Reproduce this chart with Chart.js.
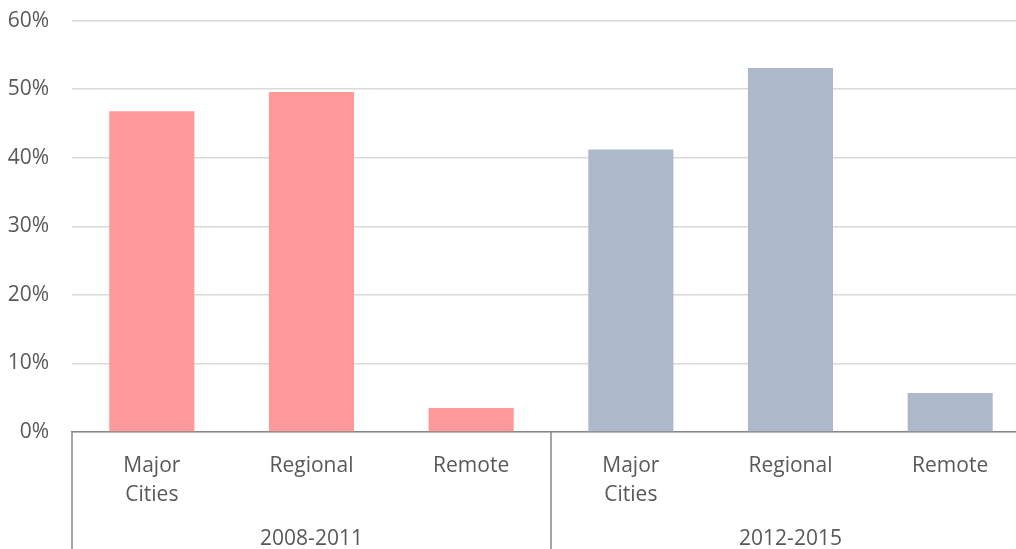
<!DOCTYPE html>
<html>
<head>
<meta charset="utf-8">
<script src="https://cdn.jsdelivr.net/npm/chart.js@4"></script>
<style>
  html, body { margin: 0; padding: 0; background: #fff; overflow: hidden; }
  #wrap { width: 1016px; height: 549px; overflow: hidden; }
  canvas { display: block; }
</style>
</head>
<body>
<div id="wrap"><canvas id="c" width="1032" height="549"></canvas></div>
<script>
// Area categories under each period
const categories = [['Major', 'Cities'], 'Regional', 'Remote', ['Major', 'Cities'], 'Regional', 'Remote'];
// Period groups (three categories each)
const periods = ['2008-2011', '2012-2015'];
// Share for each category, in order
const shares = [0.468, 0.496, 0.035, 0.412, 0.531, 0.057];
// Y axis tick values
const yTicks = [0, 0.1, 0.2, 0.3, 0.4, 0.5, 0.6];

const periodColors = ['#FF9999', '#ADB9CA'];
const textColor = '#595959';
const lineColor = '#878787';
const fontSize = 21;

Chart.defaults.font.family = "'Open Sans', sans-serif";
Chart.defaults.color = textColor;

const barColors = shares.map((_, i) => periodColors[Math.floor(i / 3)]);

// Draws the period labels and the vertical dividers below the axis
const periodGroups = {
  id: 'periodGroups',
  afterDraw(chart) {
    const x = chart.scales.x;
    const ctx = chart.ctx;
    const step = x.getPixelForValue(1) - x.getPixelForValue(0);
    const top = chart.chartArea.bottom;
    const bottom = chart.height;
    ctx.save();
    ctx.strokeStyle = lineColor;
    ctx.lineWidth = 1.5;
    const edges = [];
    periods.forEach((p, g) => {
      const left = x.getPixelForValue(g * 3) - step / 2;
      const right = x.getPixelForValue(g * 3 + 2) + step / 2;
      edges.push(left, right);
      ctx.fillStyle = textColor;
      ctx.font = fontSize + "px 'Open Sans', sans-serif";
      ctx.textAlign = 'center';
      ctx.textBaseline = 'middle';
      ctx.fillText(p, (left + right) / 2, 539);
    });
    [...new Set(edges.map(e => Math.round(e * 10) / 10))].forEach(e => {
      ctx.beginPath();
      ctx.moveTo(e, top);
      ctx.lineTo(e, bottom);
      ctx.stroke();
    });
    ctx.restore();
  }
};

new Chart(document.getElementById('c'), {
  type: 'bar',
  data: {
    labels: categories,
    datasets: [{
      data: shares,
      backgroundColor: barColors,
      borderWidth: 0,
      barPercentage: 1,
      categoryPercentage: 0.533
    }]
  },
  options: {
    responsive: false,
    animation: false,
    layout: { padding: { top: 20.7, right: 2, left: 0, bottom: 0 } },
    plugins: { legend: { display: false }, tooltip: { enabled: false } },
    scales: {
      x: {
        grid: { display: false, drawTicks: false },
        border: { display: true, color: lineColor, width: 1.5 },
        ticks: {
          font: { size: fontSize, lineHeight: 1.38 },
          color: textColor,
          padding: 20,
          maxRotation: 0,
          autoSkip: false
        },
        afterFit(scale) {
          scale.height = 117;
          scale.paddingLeft = 0;
          scale.paddingRight = 0;
        }
      },
      y: {
        min: 0,
        max: 0.6,
        afterBuildTicks(scale) { scale.ticks = yTicks.map(v => ({ value: v })); },
        grid: { color: '#d9d9d9', lineWidth: 1.5, drawTicks: false },
        border: { display: false },
        ticks: {
          font: { size: fontSize },
          color: textColor,
          padding: 23,
          callback: v => Math.round(v * 100) + '%'
        },
        afterFit(scale) {
          scale.width = 72;
          scale.paddingTop = 0;
          scale.paddingBottom = 0;
        }
      }
    }
  },
  plugins: [periodGroups]
});
</script>
</body>
</html>
